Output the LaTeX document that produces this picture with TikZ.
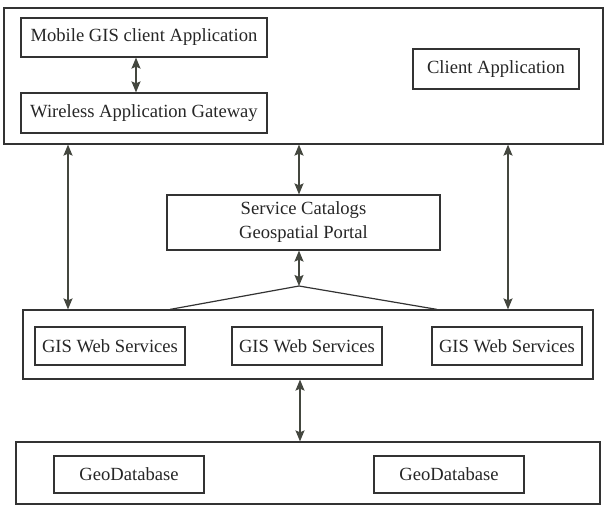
\documentclass[tikz,border=0pt]{standalone}
\usepackage{fontspec}
\setmainfont{Liberation Serif}
\usetikzlibrary{arrows.meta}
\definecolor{linec}{HTML}{333333}
\definecolor{arrc}{HTML}{44473F}
\begin{document}
\begin{tikzpicture}[x=1pt,y=-1pt,
  box/.style={draw=linec,line width=1.2pt,rectangle,inner sep=0pt,align=center,
    font=\fontsize{18.6}{24}\selectfont,text=black!85},
  arr/.style={draw=arrc,line width=1.6pt,{Stealth[length=11pt,width=9pt,inset=2pt]}-{Stealth[length=11pt,width=9pt,inset=2pt]}},
  tri/.style={draw=linec,line width=1.2pt}]
\useasboundingbox (0,0) rectangle (605,506);
% outer boxes
\node[box,minimum width=599pt,minimum height=136pt] (top) at (303.5,76) {};
\node[box,minimum width=570pt,minimum height=69pt] (gisouter) at (308,344.5) {};
\node[box,minimum width=584pt,minimum height=62pt] (dbouter) at (308,473) {};
% inner boxes
\node[box,minimum width=246pt,minimum height=39pt] (mobile) at (144,37.5) {Mobile GIS client Application};
\node[box,minimum width=246pt,minimum height=40pt] (wireless) at (144,113) {Wireless Application Gateway};
\node[box,minimum width=166pt,minimum height=40pt] (client) at (496,69) {Client Application};
\node[box,minimum width=273pt,minimum height=55pt] (service) at (303.5,222.5) {Service Catalogs\\Geospatial Portal};
\node[box,minimum width=150pt,minimum height=38pt] (gis1) at (110,346) {GIS Web Services};
\node[box,minimum width=150pt,minimum height=38pt] (gis2) at (307,346) {GIS Web Services};
\node[box,minimum width=150pt,minimum height=38pt] (gis3) at (507,346) {GIS Web Services};
\node[box,minimum width=150pt,minimum height=37pt] (db1) at (129,474.5) {GeoDatabase};
\node[box,minimum width=150pt,minimum height=37pt] (db2) at (449,474.5) {GeoDatabase};
% helper coordinates
\coordinate (xM) at (136,0);
\coordinate (xL) at (68,0);
\coordinate (xC) at (299,0);
\coordinate (xR) at (508,0);
\coordinate (xB) at (300,0);
\coordinate (apex) at (299,286);
\coordinate (bl) at (170,0);
\coordinate (br) at (437,0);
% connectors
\draw[arr] (mobile.south -| xM) -- (wireless.north -| xM);
\draw[arr] (top.south -| xL) -- (gisouter.north -| xL);
\draw[arr] (top.south -| xC) -- (service.north -| xC);
\draw[arr] (top.south -| xR) -- (gisouter.north -| xR);
\draw[arr] (service.south -| xC) -- (apex);
\draw[tri] (gisouter.north -| bl) -- (apex) -- (gisouter.north -| br);
\draw[arr] (gisouter.south -| xB) -- (dbouter.north -| xB);
\end{tikzpicture}
\end{document}
